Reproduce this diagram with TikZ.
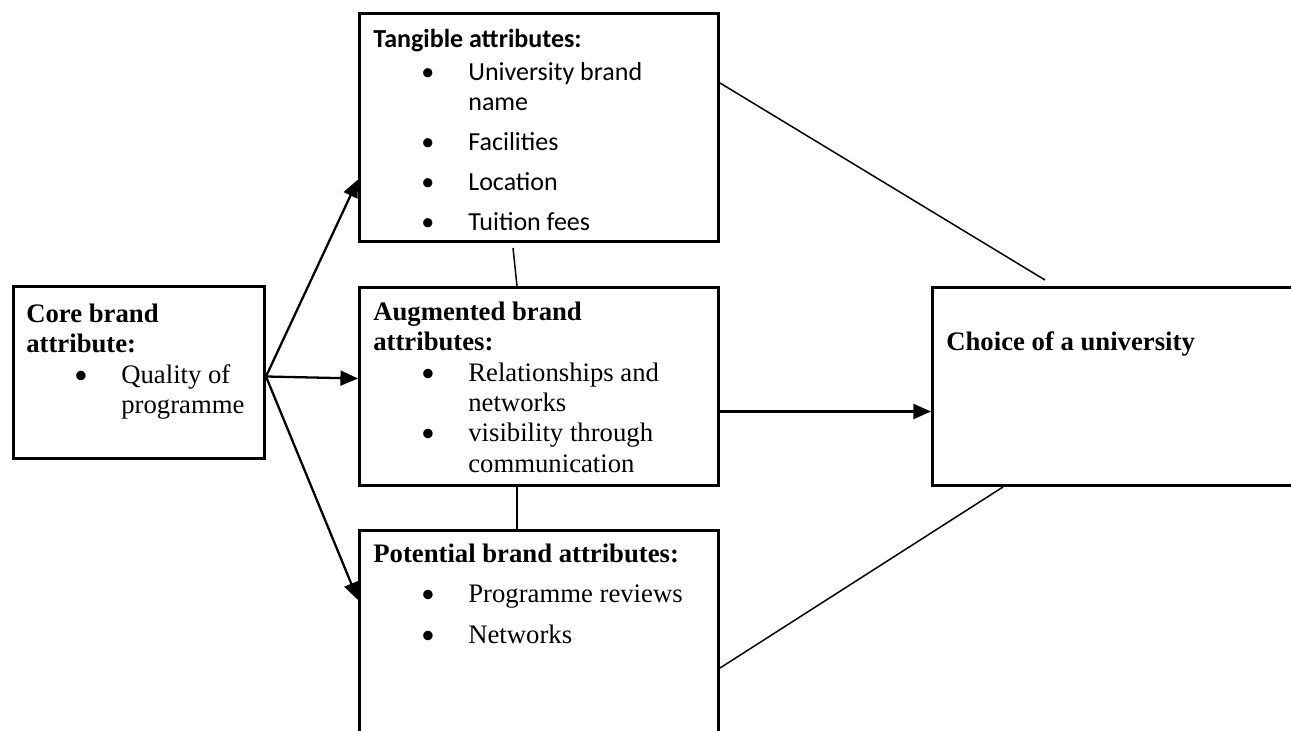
\documentclass[tikz,border=0pt]{standalone}
\usepackage{fontspec}
\setmainfont{Liberation Serif}
\newfontfamily\calibri{Carlito}
\usetikzlibrary{arrows.meta, positioning}
\newlength{\px}
\setlength{\px}{0.02cm}
\newcommand{\bul}{\makebox[95\px][l]{\hspace*{48\px}{\calibri\textbullet}}}
\newcommand{\cont}{\hspace*{95\px}}
\tikzset{
    box/.style={rectangle, draw=black, line width=1.7pt, inner sep=0pt, anchor=north west},
    boxtext/.style={inner sep=0pt, anchor=north west, align=left, font=\fontsize{15.2}{17.3}\selectfont},
    sanstext/.style={inner sep=0pt, anchor=north west, align=left, font=\calibri\fontsize{14.8}{17.1}\selectfont},
    arrow/.style={line width=1.3pt, -{Triangle[length=10pt, width=8.5pt]}},
    link/.style={line width=0.85pt}
}
\begin{document}
\begin{tikzpicture}[x=0.02cm, y=-0.02cm]
    \useasboundingbox (0,0) rectangle (1291,730);
    % Boxes
    \node (core) [box, minimum width=251\px, minimum height=172\px] at (12,285) {};
    \node (tangible) [box, minimum width=359\px, minimum height=228\px] at (358,12) {};
    \node (augmented) [box, minimum width=359\px, minimum height=198\px] at (358,286) {};
    \node (potential) [box, minimum width=359\px, minimum height=240\px] at (358,529) {};
    \node (choice) [box, minimum width=400\px, minimum height=198\px] at (931,286) {};
    % Texts
    \node (coretext) [boxtext] at ([xshift=14\px, yshift=-18.6\px]core.north west)
        {\textbf{Core brand}\\\textbf{attribute:}\\\bul Quality of\\\cont programme};
    \node (tangibletext) [sanstext] at ([xshift=15\px, yshift=-17\px]tangible.north west)
        {\textbf{Tangible attributes:}\\[3\px]\bul University brand\\\cont name\\[10\px]
         \bul Facilities\\[10\px]\bul Location\\[10\px]\bul Tuition fees};
    \node (augmentedtext) [boxtext] at ([xshift=15\px, yshift=-15.5\px]augmented.north west)
        {\textbf{Augmented brand}\\\textbf{attributes:}\\\bul Relationships and\\\cont networks\\
         \bul visibility through\\\cont communication};
    \node (potentialtext) [boxtext] at ([xshift=15\px, yshift=-14.4\px]potential.north west)
        {\textbf{Potential brand attributes:}\\[10\px]\bul Programme reviews\\[10\px]\bul Networks};
    \node (choicetext) [boxtext] at ([xshift=15\px, yshift=-45.4\px]choice.north west)
        {\textbf{Choice of a university}};
    % Arrows
    \coordinate (fork) at ([yshift=-4\px]core.east);
    \draw [arrow] (fork) -- ([yshift=-52\px]tangible.west);
    \draw [arrow] (fork) -- ([yshift=8\px]augmented.west);
    \draw [arrow] (fork) -- ([yshift=-71\px]potential.north west);
    \draw [arrow] ([yshift=-25\px]augmented.east) -- ([yshift=-25\px]choice.west);
    % Lines
    \draw [link] ([xshift=155\px, yshift=-5\px]tangible.south west) -- ([xshift=159\px]augmented.north west);
    \draw [link] ([xshift=159\px]augmented.south west) -- ([xshift=159\px]potential.north west);
    \draw [link] ([yshift=-71\px]tangible.north east) -- ([xshift=114\px, yshift=6\px]choice.north west);
    \draw [link] ([yshift=-139\px]potential.north east) -- ([xshift=72\px]choice.south west);
\end{tikzpicture}
\end{document}
